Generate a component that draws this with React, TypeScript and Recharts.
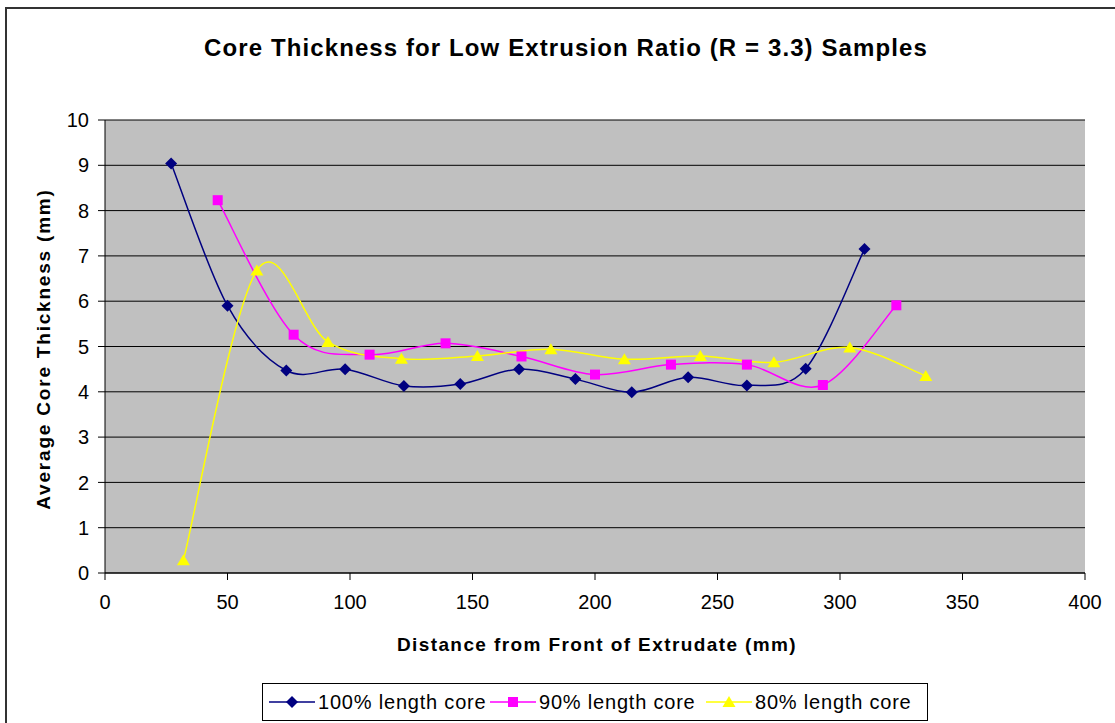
import { CartesianGrid, Line, LineChart, XAxis, YAxis } from 'recharts';

// distances (mm) and thickness (mm)
const core100X = [27, 50, 74, 98, 122, 145, 169, 192, 215, 238, 262, 286, 310];
const core100Y = [9.04, 5.9, 4.47, 4.5, 4.13, 4.17, 4.5, 4.28, 3.99, 4.32, 4.14, 4.51, 7.15];
const core90X = [46, 77, 108, 139, 170, 200, 231, 262, 293, 323];
const core90Y = [8.23, 5.26, 4.82, 5.07, 4.78, 4.38, 4.6, 4.6, 4.15, 5.91];
const core80X = [32, 62, 91, 121, 152, 182, 212, 243, 273, 304, 335];
const core80Y = [0.28, 6.68, 5.1, 4.73, 4.79, 4.94, 4.72, 4.79, 4.65, 4.98, 4.35];

const xTicks = [0, 50, 100, 150, 200, 250, 300, 350, 400];
const yTicks = [0, 1, 2, 3, 4, 5, 6, 7, 8, 9, 10];

const toRows = (xs: number[], ys: number[]) => xs.map((x, i) => ({ x, y: ys[i] }));

const FONT = '"Liberation Sans", Arial, sans-serif';

// excel-like smoothed line (catmull-rom)
const excelSmooth = (context: any) => {
    let xs: number[] = [];
    let ys: number[] = [];
    return {
        areaStart() {},
        areaEnd() {},
        lineStart() { xs = []; ys = []; },
        point(x: number, y: number) { xs.push(+x); ys.push(+y); },
        lineEnd() {
            const n = xs.length;
            if (!n) return;
            context.moveTo(xs[0], ys[0]);
            for (let i = 0; i < n - 1; i++) {
                const a = Math.max(i - 1, 0);
                const d = Math.min(i + 2, n - 1);
                context.bezierCurveTo(
                    xs[i] + (xs[i + 1] - xs[a]) / 6, ys[i] + (ys[i + 1] - ys[a]) / 6,
                    xs[i + 1] - (xs[d] - xs[i]) / 6, ys[i + 1] - (ys[d] - ys[i]) / 6,
                    xs[i + 1], ys[i + 1]);
            }
        },
    };
};

const Diamond = ({ cx, cy, fill }: any) =>
    <path d={`M${cx},${cy - 6}L${cx + 6},${cy}L${cx},${cy + 6}L${cx - 6},${cy}Z`} fill={fill} />;
const Square = ({ cx, cy, fill }: any) =>
    <rect x={cx - 5} y={cy - 5} width={10} height={10} fill={fill} />;
const Triangle = ({ cx, cy, fill }: any) =>
    <path d={`M${cx},${cy - 6}L${cx + 6.5},${cy + 5}L${cx - 6.5},${cy + 5}Z`} fill={fill} />;

const series = [
    { name: '100% length core', color: '#000080', data: toRows(core100X, core100Y), Marker: Diamond },
    { name: '90% length core', color: '#FF00FF', data: toRows(core90X, core90Y), Marker: Square },
    { name: '80% length core', color: '#FFFF00', data: toRows(core80X, core80Y), Marker: Triangle },
];

const legendLeft = [7, 228, 444];

const App = () => {
    return (
        <div style={{ position: 'absolute', left: 0, top: 0, width: 1115, height: 723, overflow: 'hidden', background: '#fff', fontFamily: FONT }}>
            <div style={{ position: 'absolute', left: 5, top: 7, width: 1130, height: 800, border: '2px solid #333' }} />
            <div style={{ position: 'absolute', left: 566, top: 48, transform: 'translate(-50%,-50%)', fontSize: 24, fontWeight: 'bold', letterSpacing: 1.1, whiteSpace: 'nowrap' }}>
                Core Thickness for Low Extrusion Ratio (R = 3.3) Samples
            </div>
            <div style={{ position: 'absolute', left: 44, top: 349, transform: 'translate(-50%,-50%) rotate(-90deg)', fontSize: 19, fontWeight: 'bold', letterSpacing: 1.8, whiteSpace: 'nowrap' }}>
                Average Core Thickness (mm)
            </div>
            <div style={{ position: 'absolute', left: 597, top: 645, transform: 'translate(-50%,-50%)', fontSize: 19, fontWeight: 'bold', letterSpacing: 1.4, whiteSpace: 'nowrap' }}>
                Distance from Front of Extrudate (mm)
            </div>
            <div style={{ position: 'absolute', left: 0, top: 0 }}>
                <LineChart width={1115} height={723} margin={{ top: 120, right: 30, bottom: 120, left: 40 }}>
                    <CartesianGrid vertical={false} stroke="#000" fill="#C0C0C0" fillOpacity={1} />
                    <XAxis dataKey="x" type="number" domain={[0, 400]} ticks={xTicks} height={30}
                        stroke="#000" tickSize={7} tickMargin={15}
                        tick={{ fill: '#000', fontSize: 20, fontFamily: FONT }} allowDuplicatedCategory={false} />
                    <YAxis dataKey="y" type="number" domain={[0, 10]} ticks={yTicks} width={65}
                        stroke="#000" tickSize={7} tickMargin={9}
                        tick={{ fill: '#000', fontSize: 20, fontFamily: FONT }} />
                    {series.map(s => (
                        <Line key={s.name} data={s.data} dataKey="y" name={s.name} type={excelSmooth as any}
                            stroke={s.color} strokeWidth={1.5} isAnimationActive={false}
                            dot={(p: any) => <s.Marker key={p.index} cx={p.cx} cy={p.cy} fill={s.color} />}
                            activeDot={false} />
                    ))}
                </LineChart>
            </div>
            <div style={{ position: 'absolute', left: 262, top: 683, width: 666, height: 38, border: '1px solid #000', boxSizing: 'border-box' }}>
                {series.map((s, i) => (
                    <div key={s.name} style={{ position: 'absolute', left: legendLeft[i] - 1, top: 0, height: 36, display: 'flex', alignItems: 'center' }}>
                        <svg width={46} height={16}>
                            <line x1={0} y1={8} x2={46} y2={8} stroke={s.color} strokeWidth={1.5} />
                            <s.Marker cx={23} cy={8} fill={s.color} />
                        </svg>
                        <span style={{ marginLeft: 3, fontSize: 20, letterSpacing: 0.8, whiteSpace: 'nowrap' }}>{s.name}</span>
                    </div>
                ))}
            </div>
        </div>
    );
};

export default App;
